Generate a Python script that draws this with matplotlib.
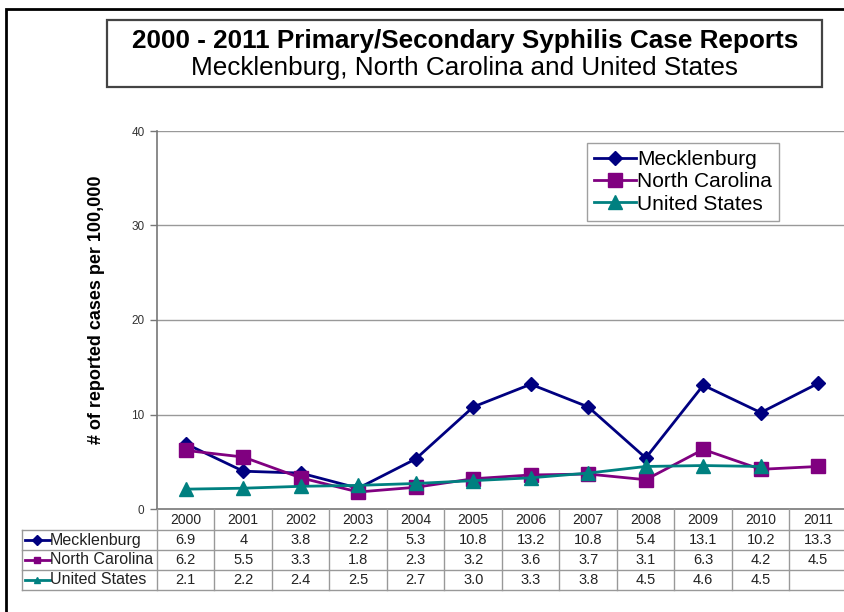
import numpy as np
import matplotlib
matplotlib.use("Agg")
import matplotlib.pyplot as plt
from matplotlib import transforms
from matplotlib.patches import Rectangle
from matplotlib.lines import Line2D

plt.rcParams['font.family'] = ['Liberation Sans', 'DejaVu Sans']

years = ["2000", "2001", "2002", "2003", "2004", "2005",
         "2006", "2007", "2008", "2009", "2010", "2011"]
mecklenburg = [6.9, 4, 3.8, 2.2, 5.3, 10.8, 13.2, 10.8, 5.4, 13.1, 10.2, 13.3]
north_carolina = [6.2, 5.5, 3.3, 1.8, 2.3, 3.2, 3.6, 3.7, 3.1, 6.3, 4.2, 4.5]
united_states = [2.1, 2.2, 2.4, 2.5, 2.7, 3.0, 3.3, 3.8, 4.5, 4.6, 4.5, np.nan]

series_names = ["Mecklenburg", "North Carolina", "United States"]
series_colors = ["#000080", "#800080", "#008080"]
series_markers = ["D", "s", "^"]
series_msizes = [7.5, 9.5, 9.5]
series_formats = ["{:g}", "{:g}", "{:.1f}"]
yticks = [0, 10, 20, 30, 40]

W, H = 845, 612
fig = plt.figure(figsize=(W / 100, H / 100), dpi=100)


def fx(px):
    return px / W


def fy(py):
    return 1 - py / H


# outer frame
fig.patches.append(Rectangle((fx(6), fy(640)), fx(860), fy(9) - fy(640),
                             transform=fig.transFigure, fill=False,
                             edgecolor="black", linewidth=2))

# title box
fig.patches.append(Rectangle((fx(107), fy(87)), fx(822 - 107), fy(20) - fy(87),
                             transform=fig.transFigure, fill=False,
                             edgecolor="#444444", linewidth=1.6))
fig.text(fx(465), fy(41), "2000 - 2011 Primary/Secondary Syphilis Case Reports",
         ha="center", va="center", fontsize=18.8, fontweight="bold")
fig.text(fx(465), fy(68), "Mecklenburg, North Carolina and United States",
         ha="center", va="center", fontsize=18.8)

ax = fig.add_axes([fx(157), fy(509), fx(847 - 157), fy(131) - fy(509)])
x = np.arange(len(years))
data = [mecklenburg, north_carolina, united_states]
for vals, name, c, m, ms in zip(data, series_names, series_colors,
                                series_markers, series_msizes):
    ax.plot(x, vals, color=c, marker=m, markersize=ms, linewidth=2,
            label=name, clip_on=False, zorder=3)

ax.set_xlim(-0.5, len(years) - 0.5)
ax.set_ylim(0, 40)
ax.set_yticks(yticks)
ax.set_yticklabels([str(t) for t in yticks], fontsize=8.5, color="#333333")
ax.set_xticks([])
ax.tick_params(axis="y", length=5, width=1, color="#777777", pad=4)
for t in yticks[1:]:
    ax.axhline(t, color="#999999", linewidth=1, zorder=1)
for s in ["top", "right"]:
    ax.spines[s].set_visible(False)
ax.spines["left"].set_color("#777777")
ax.spines["bottom"].set_color("#777777")
ax.spines["left"].set_linewidth(1.2)
ax.spines["bottom"].set_linewidth(1.2)

# y-axis title
fig.text(fx(97), fy(310), "# of reported cases per 100,000", rotation=90,
         ha="center", va="center", fontsize=13, fontweight="bold")

leg = ax.legend(loc="upper left", bbox_to_anchor=((587 - 157) / 690, (509 - 143) / 378),
                fontsize=15, frameon=True, fancybox=False, handlelength=2.0,
                handletextpad=0.05, borderpad=0.35, labelspacing=0.15,
                borderaxespad=0)
leg.get_frame().set_edgecolor("#888888")
leg.get_frame().set_linewidth(1)

# data table beneath the axes
tr = transforms.blended_transform_factory(ax.transData, fig.transFigure)
grid_c = "#999999"
row_tops = [509, 530, 550, 570, 590]
for i, yr in enumerate(years):
    fig.text(i, fy(520.5), yr, transform=tr, ha="center", va="center",
             fontsize=10, color="#222222")
for i in range(len(years) + 1):
    fig.add_artist(Line2D([i - 0.5, i - 0.5], [fy(509), fy(590)], transform=tr,
                          color=grid_c, linewidth=1))
for yy in row_tops[1:]:
    fig.add_artist(Line2D([fx(22), fx(860)], [fy(yy), fy(yy)],
                          transform=fig.transFigure, color=grid_c, linewidth=1))
fig.add_artist(Line2D([fx(22), fx(22)], [fy(530), fy(590)],
                      transform=fig.transFigure, color=grid_c, linewidth=1))

for r, (vals, name, c, m, fmt) in enumerate(zip(data, series_names, series_colors,
                                                series_markers, series_formats)):
    yc = fy((row_tops[r + 1] + row_tops[r + 2]) / 2)
    fig.add_artist(Line2D([fx(25), fx(50)], [yc, yc], transform=fig.transFigure,
                          color=c, linewidth=2))
    fig.add_artist(Line2D([fx(37.5)], [yc], transform=fig.transFigure, color=c,
                          marker=m, markersize=5, linestyle="none"))
    fig.text(fx(50), yc, name, ha="left", va="center", fontsize=11.5,
             color="#222222")
    for i, v in enumerate(vals):
        if np.isnan(v):
            continue
        fig.text(i, yc, fmt.format(v), transform=tr, ha="center", va="center",
                 fontsize=10.5, color="#222222")

fig.savefig("out.png", dpi=100)
